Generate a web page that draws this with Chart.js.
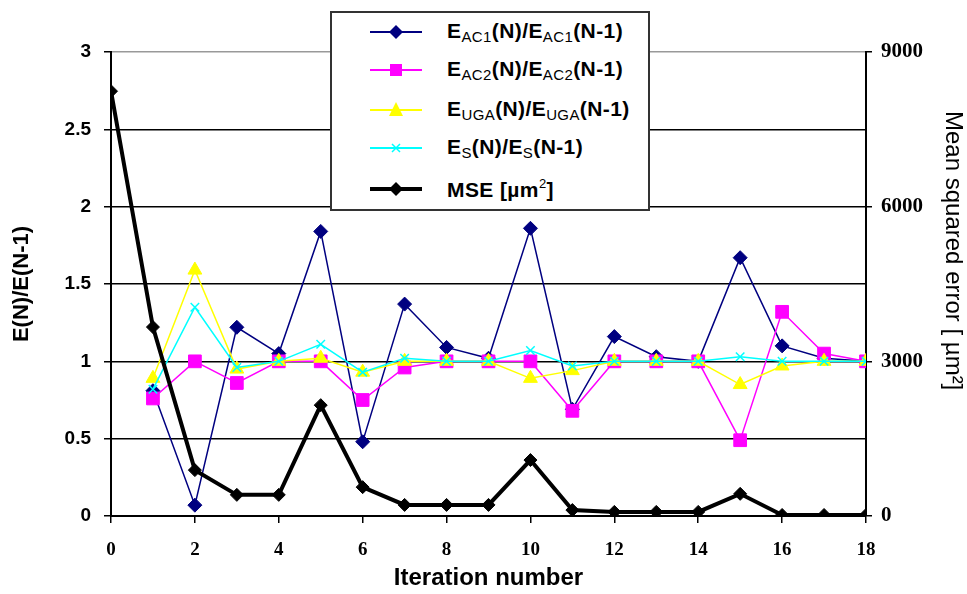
<!DOCTYPE html>
<html>
<head>
<meta charset="utf-8">
<script src="https://cdn.jsdelivr.net/npm/chart.js@4.4.1/dist/chart.umd.min.js"></script>
<style>
  html, body { margin: 0; padding: 0; background: #fff; }
  #wrap { position: relative; width: 967px; height: 594px; }
  #legend {
    position: absolute; left: 330px; top: 11px; width: 316px; height: 196px;
    border: 2px solid #333; background: #fff;
    font-family: "Liberation Sans", Arial, sans-serif; font-weight: bold; font-size: 21px; color: #000;
  }
  .row { position: absolute; left: 0; height: 30px; width: 316px; }
  .row svg { position: absolute; left: 36px; top: 0; }
  .row span.t { position: absolute; left: 115px; top: 2px; white-space: nowrap; letter-spacing: 0.4px; }
  .row sub { font-size: 15px; font-weight: normal; vertical-align: -4px; }
  .row sup { font-size: 13px; font-weight: normal; vertical-align: 9px; }
</style>
</head>
<body>
<div id="wrap">
  <canvas id="chart" width="967" height="594"></canvas>
  <div id="legend">
    <div class="row" style="top:4px">
      <svg width="56" height="30"><line x1="2" y1="15" x2="54" y2="15" stroke="#000080" stroke-width="2"/><polygon points="28,8 35,15 28,22 21,15" fill="#000080"/></svg>
      <span class="t">E<sub>AC1</sub>(N)/E<sub>AC1</sub>(N-1)</span>
    </div>
    <div class="row" style="top:42px">
      <svg width="56" height="30"><line x1="2" y1="15" x2="54" y2="15" stroke="#ff00ff" stroke-width="2"/><rect x="22" y="9" width="12" height="12" fill="#ff00ff"/></svg>
      <span class="t">E<sub>AC2</sub>(N)/E<sub>AC2</sub>(N-1)</span>
    </div>
    <div class="row" style="top:82px">
      <svg width="56" height="30"><line x1="2" y1="15" x2="54" y2="15" stroke="#ffff00" stroke-width="2"/><polygon points="28,7 35,21 21,21" fill="#ffff00"/></svg>
      <span class="t">E<sub>UGA</sub>(N)/E<sub>UGA</sub>(N-1)</span>
    </div>
    <div class="row" style="top:120px">
      <svg width="56" height="30"><line x1="2" y1="15" x2="54" y2="15" stroke="#00ffff" stroke-width="2"/><path d="M24,11 L32,19 M32,11 L24,19" stroke="#00ffff" stroke-width="1.5"/></svg>
      <span class="t">E<sub>S</sub>(N)/E<sub>S</sub>(N-1)</span>
    </div>
    <div class="row" style="top:161px">
      <svg width="56" height="30"><line x1="2" y1="15" x2="54" y2="15" stroke="#000" stroke-width="4"/><polygon points="28,8 35,15 28,22 21,15" fill="#000"/></svg>
      <span class="t">MSE [µm<sup>2</sup>]</span>
    </div>
  </div>
</div>
<script>
// iteration numbers (x axis)
const iterations = [0, 1, 2, 3, 4, 5, 6, 7, 8, 9, 10, 11, 12, 13, 14, 15, 16, 17, 18];

// ratio series E(N)/E(N-1), left axis
const eAC1 = [null, 0.81, 0.07, 1.22, 1.05, 1.84, 0.48, 1.37, 1.09, 1.02, 1.86, 0.69, 1.16, 1.03, 1.00, 1.67, 1.10, 1.02, 1.00];
const eAC2 = [null, 0.76, 1.00, 0.86, 1.00, 1.00, 0.75, 0.96, 1.00, 1.00, 1.00, 0.68, 1.00, 1.00, 1.00, 0.49, 1.32, 1.05, 1.00];
const eUGA = [null, 0.89, 1.59, 0.95, 1.00, 1.02, 0.93, 1.00, 1.00, 1.00, 0.89, 0.94, 1.00, 1.00, 1.00, 0.85, 0.97, 1.00, 1.00];
const eS   = [null, 0.82, 1.35, 0.96, 1.00, 1.11, 0.93, 1.02, 1.00, 1.00, 1.07, 0.97, 1.00, 1.00, 1.00, 1.03, 1.00, 1.00, 1.00];

// mean squared error [um^2], right axis
const mse = [8240, 3665, 890, 410, 410, 2150, 560, 215, 215, 215, 1085, 115, 80, 80, 80, 430, 20, 20, 20];

function pts(values) {
    return iterations.map((x, i) => ({ x: x, y: values[i] }));
}

const sans = "'Liberation Sans', Arial, sans-serif";
const serif = "'Liberation Serif', 'Times New Roman', serif";

const ctx = document.getElementById('chart');
new Chart(ctx, {
    type: 'line',
    data: {
        datasets: [
            {
                label: 'MSE', data: pts(mse), yAxisID: 'y1', order: 0,
                borderColor: '#000', backgroundColor: '#000', borderWidth: 4,
                pointStyle: 'rectRot', pointRadius: 6.5, pointBorderWidth: 1
            },
            {
                label: 'ES', data: pts(eS), yAxisID: 'y', order: 1,
                borderColor: '#00ffff', backgroundColor: '#00ffff', borderWidth: 1.5,
                pointStyle: 'crossRot', pointRadius: 6, pointBorderWidth: 1.5
            },
            {
                label: 'EUGA', data: pts(eUGA), yAxisID: 'y', order: 2,
                borderColor: '#ffff00', backgroundColor: '#ffff00', borderWidth: 1.5,
                pointStyle: 'triangle', pointRadius: 8, pointBorderWidth: 1
            },
            {
                label: 'EAC2', data: pts(eAC2), yAxisID: 'y', order: 3,
                borderColor: '#ff00ff', backgroundColor: '#ff00ff', borderWidth: 1.5,
                pointStyle: 'rect', pointRadius: 9, pointBorderWidth: 1
            },
            {
                label: 'EAC1', data: pts(eAC1), yAxisID: 'y', order: 4,
                borderColor: '#000080', backgroundColor: '#000080', borderWidth: 1.5,
                pointStyle: 'rectRot', pointRadius: 7, pointBorderWidth: 1
            }
        ]
    },
    options: {
        responsive: false,
        animation: false,
        layout: { padding: { top: 52 } },
        plugins: {
            legend: { display: false },
            tooltip: { enabled: false }
        },
        scales: {
            x: {
                type: 'linear', min: 0, max: 18,
                afterFit: s => { s.height = 78; },
                ticks: { stepSize: 2, padding: 16, color: '#000', font: { family: serif, size: 19, weight: 'bold' } },
                grid: { drawOnChartArea: false, tickLength: 7, tickColor: '#000', lineWidth: 1.5 },
                border: { color: '#000', width: 2 },
                title: { display: true, text: 'Iteration number', color: '#000', padding: { top: 0, bottom: 1 },
                         font: { family: sans, size: 24, weight: 'bold' } }
            },
            y: {
                position: 'left', min: 0, max: 3,
                afterFit: s => { s.width = 111; },
                ticks: { stepSize: 0.5, padding: 13, color: '#000', font: { family: sans, size: 19, weight: 'bold' },
                         callback: v => String(v) },
                grid: {
                    color: c => (c.tick && c.tick.value === 3 ? '#999' : '#000'),
                    tickColor: '#000', lineWidth: 1.5, tickLength: 7
                },
                border: { color: '#000', width: 2 },
                title: { display: true, text: 'E(N)/E(N-1)', color: '#000', padding: { top: 9, bottom: 0 },
                         font: { family: sans, size: 22, weight: 'bold' } }
            },
            y1: {
                position: 'right', min: 0, max: 9000,
                afterFit: s => { s.width = 101; },
                ticks: { stepSize: 3000, padding: 9, color: '#000', font: { family: serif, size: 21, weight: 'bold' },
                         callback: v => String(v) },
                grid: { drawOnChartArea: false, tickColor: '#000', lineWidth: 1.5, tickLength: 6 },
                border: { color: '#000', width: 2 },
                title: { display: true, text: 'Mean squared error [ µm²]\u00a0\u00a0\u00a0\u00a0\u00a0\u00a0\u00a0\u00a0\u00a0\u00a0',
                         color: '#000', padding: { top: 0, bottom: 6 },
                         font: { family: sans, size: 24 } }
            }
        }
    }
});
</script>
</body>
</html>
